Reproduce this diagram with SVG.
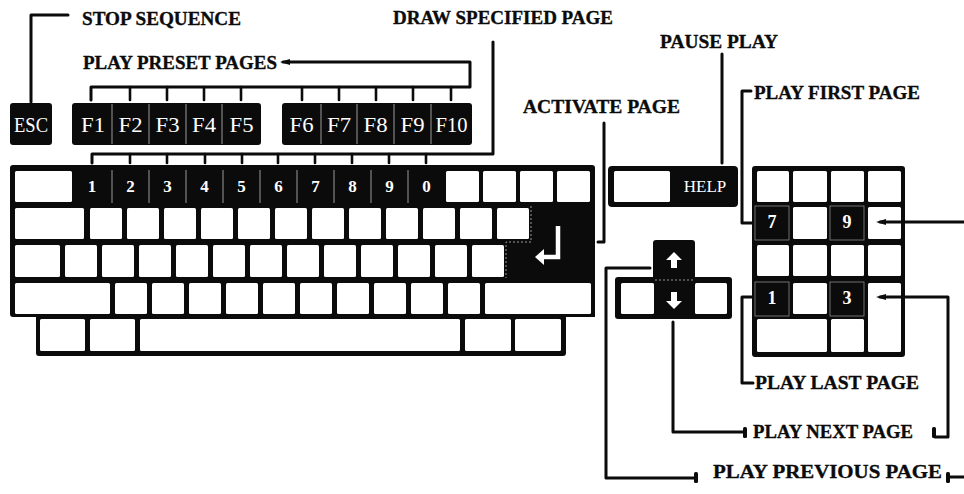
<svg xmlns="http://www.w3.org/2000/svg" width="964" height="494" viewBox="0 0 964 494">
<style>
.frame{fill:#0b0b0b}
.k{fill:#fff}
.sep{stroke:#9a9a9a;stroke-width:1}
.dk{fill:#0b0b0b;stroke:#8a8a8a;stroke-width:0.8}
.kl{font-family:"Liberation Serif",serif;fill:#fff;text-anchor:middle}
.fk{font-size:22px}
.nk{font-size:17px;font-weight:bold}
.lbl{font-family:"Liberation Serif",serif;font-weight:bold;font-size:19.5px;fill:#0b0b0b;stroke:#0b0b0b;stroke-width:0.35}
.ln{fill:none;stroke:#0b0b0b;stroke-width:3;stroke-linejoin:round;stroke-linecap:round}
.tk{fill:none;stroke:#0b0b0b;stroke-width:2.6;stroke-linecap:round}
.cap{fill:#0b0b0b}
</style>
<rect width="964" height="494" fill="#fff"/>

<!-- Main keyboard -->
<g id="main-keyboard">
  <path class="frame" d="M13,165 H592 Q595,165 595,168 V317 H566 V353 Q566,356 563,356 H39 Q36,356 36,353 V317 H13 Q10,317 10,314 V168 Q10,165 13,165 Z"/>
  <!-- row 1 -->
  <rect class="k" x="15" y="171" width="57" height="31" rx="1.5"/>
  <g class="sep">
    <line x1="112" y1="170" x2="112" y2="203"/><line x1="149" y1="170" x2="149" y2="203"/>
    <line x1="186" y1="170" x2="186" y2="203"/><line x1="223" y1="170" x2="223" y2="203"/>
    <line x1="260" y1="170" x2="260" y2="203"/><line x1="297" y1="170" x2="297" y2="203"/>
    <line x1="334" y1="170" x2="334" y2="203"/><line x1="371" y1="170" x2="371" y2="203"/>
    <line x1="408" y1="170" x2="408" y2="203"/>
  </g>
  <g class="kl nk">
    <text x="92" y="192">1</text><text x="130.5" y="192">2</text><text x="167.5" y="192">3</text>
    <text x="204.5" y="192">4</text><text x="241.5" y="192">5</text><text x="278.5" y="192">6</text>
    <text x="315.5" y="192">7</text><text x="352.5" y="192">8</text><text x="389.5" y="192">9</text>
    <text x="426.5" y="192">0</text>
  </g>
  <rect class="k" x="446" y="171" width="33" height="31" rx="1.5"/>
  <rect class="k" x="483" y="171" width="33" height="31" rx="1.5"/>
  <rect class="k" x="520" y="171" width="33" height="31" rx="1.5"/>
  <rect class="k" x="557" y="171" width="33" height="31" rx="1.5"/>
  <!-- row 2 -->
  <rect class="k" x="15" y="208" width="69" height="31" rx="1.5"/>
  <rect class="k" x="90" y="208" width="32" height="31" rx="1.5"/>
  <rect class="k" x="127" y="208" width="32" height="31" rx="1.5"/>
  <rect class="k" x="164" y="208" width="32" height="31" rx="1.5"/>
  <rect class="k" x="201" y="208" width="32" height="31" rx="1.5"/>
  <rect class="k" x="238" y="208" width="32" height="31" rx="1.5"/>
  <rect class="k" x="275" y="208" width="32" height="31" rx="1.5"/>
  <rect class="k" x="312" y="208" width="32" height="31" rx="1.5"/>
  <rect class="k" x="349" y="208" width="32" height="31" rx="1.5"/>
  <rect class="k" x="386" y="208" width="32" height="31" rx="1.5"/>
  <rect class="k" x="423" y="208" width="32" height="31" rx="1.5"/>
  <rect class="k" x="460" y="208" width="32" height="31" rx="1.5"/>
  <rect class="k" x="497" y="208" width="32" height="31" rx="1.5"/>
  <!-- row 3 -->
  <rect class="k" x="15" y="245" width="45" height="32" rx="1.5"/>
  <rect class="k" x="65" y="245" width="32" height="32" rx="1.5"/>
  <rect class="k" x="102" y="245" width="32" height="32" rx="1.5"/>
  <rect class="k" x="139" y="245" width="32" height="32" rx="1.5"/>
  <rect class="k" x="176" y="245" width="32" height="32" rx="1.5"/>
  <rect class="k" x="213" y="245" width="32" height="32" rx="1.5"/>
  <rect class="k" x="250" y="245" width="32" height="32" rx="1.5"/>
  <rect class="k" x="287" y="245" width="32" height="32" rx="1.5"/>
  <rect class="k" x="324" y="245" width="32" height="32" rx="1.5"/>
  <rect class="k" x="361" y="245" width="32" height="32" rx="1.5"/>
  <rect class="k" x="398" y="245" width="32" height="32" rx="1.5"/>
  <rect class="k" x="435" y="245" width="32" height="32" rx="1.5"/>
  <rect class="k" x="472" y="245" width="32" height="32" rx="1.5"/>
  <!-- enter -->
  <path d="M531,206 V242 H506 V278" fill="none" stroke="#9a9a9a" stroke-width="1" stroke-dasharray="2 2"/>
  <path d="M558,226 V257 H542" fill="none" stroke="#fff" stroke-width="4.5" stroke-linejoin="miter"/>
  <polygon points="535,257 544,249 544,265" fill="#fff"/>
  <!-- row 4 -->
  <rect class="k" x="15" y="283" width="95" height="31" rx="1.5"/>
  <rect class="k" x="115" y="283" width="32" height="31" rx="1.5"/>
  <rect class="k" x="152" y="283" width="32" height="31" rx="1.5"/>
  <rect class="k" x="189" y="283" width="32" height="31" rx="1.5"/>
  <rect class="k" x="226" y="283" width="32" height="31" rx="1.5"/>
  <rect class="k" x="263" y="283" width="32" height="31" rx="1.5"/>
  <rect class="k" x="300" y="283" width="32" height="31" rx="1.5"/>
  <rect class="k" x="337" y="283" width="32" height="31" rx="1.5"/>
  <rect class="k" x="374" y="283" width="32" height="31" rx="1.5"/>
  <rect class="k" x="411" y="283" width="32" height="31" rx="1.5"/>
  <rect class="k" x="448" y="283" width="32" height="31" rx="1.5"/>
  <rect class="k" x="485" y="283" width="106" height="31" rx="1.5"/>
  <!-- row 5 -->
  <rect class="k" x="40" y="319" width="45" height="32" rx="1.5"/>
  <rect class="k" x="90" y="319" width="45" height="32" rx="1.5"/>
  <rect class="k" x="140" y="319" width="320" height="32" rx="1.5"/>
  <rect class="k" x="465" y="319" width="46" height="32" rx="1.5"/>
  <rect class="k" x="515" y="319" width="46" height="32" rx="1.5"/>
</g>

<!-- ESC -->
<g id="esc-key">
  <rect class="frame" x="10" y="103" width="42" height="42" rx="3"/>
  <text class="kl fk" x="31" y="132" textLength="34" lengthAdjust="spacingAndGlyphs">ESC</text>
</g>

<!-- F1-F5 -->
<g id="fkeys-left">
  <rect class="frame" x="72" y="103" width="189" height="42" rx="3"/>
  <g class="sep">
    <line x1="112" y1="104" x2="112" y2="144"/><line x1="149" y1="104" x2="149" y2="144"/>
    <line x1="186" y1="104" x2="186" y2="144"/><line x1="222" y1="104" x2="222" y2="144"/>
  </g>
  <g class="kl fk">
    <text x="93" y="132" textLength="24" lengthAdjust="spacingAndGlyphs">F1</text>
    <text x="130.5" y="132" textLength="24" lengthAdjust="spacingAndGlyphs">F2</text>
    <text x="167.5" y="132" textLength="24" lengthAdjust="spacingAndGlyphs">F3</text>
    <text x="204" y="132" textLength="24" lengthAdjust="spacingAndGlyphs">F4</text>
    <text x="241.5" y="132" textLength="24" lengthAdjust="spacingAndGlyphs">F5</text>
  </g>
</g>

<!-- F6-F10 -->
<g id="fkeys-right">
  <rect class="frame" x="282" y="103" width="190" height="42" rx="3"/>
  <g class="sep">
    <line x1="321" y1="104" x2="321" y2="144"/><line x1="357" y1="104" x2="357" y2="144"/>
    <line x1="394" y1="104" x2="394" y2="144"/><line x1="431" y1="104" x2="431" y2="144"/>
  </g>
  <g class="kl fk">
    <text x="301.5" y="132" textLength="24" lengthAdjust="spacingAndGlyphs">F6</text>
    <text x="339" y="132" textLength="24" lengthAdjust="spacingAndGlyphs">F7</text>
    <text x="375.5" y="132" textLength="24" lengthAdjust="spacingAndGlyphs">F8</text>
    <text x="412.5" y="132" textLength="24" lengthAdjust="spacingAndGlyphs">F9</text>
    <text x="451.5" y="132" textLength="32" lengthAdjust="spacingAndGlyphs">F10</text>
  </g>
</g>

<!-- HELP block -->
<g id="help-block">
  <rect class="frame" x="608" y="166" width="130" height="41" rx="4"/>
  <rect class="k" x="614" y="171" width="56" height="31" rx="1.5"/>
  <text class="kl" x="705" y="192" font-size="17px">HELP</text>
</g>

<!-- Arrow keys -->
<g id="arrow-keys">
  <rect class="frame" x="653" y="240" width="42" height="44" rx="3"/>
  <rect class="frame" x="615" y="277" width="117" height="42" rx="3"/>
  <rect class="k" x="621" y="283" width="33" height="31" rx="1.5"/>
  <rect class="k" x="695" y="283" width="32" height="31" rx="1.5"/>
  <line class="sep" x1="655" y1="280" x2="694" y2="280" stroke-dasharray="2 2"/>
  <polygon points="674,252 682,260 677,260 677,268 671,268 671,260 666,260" fill="#fff"/>
  <polygon points="674,309 682,301 677,301 677,292 671,292 671,301 666,301" fill="#fff"/>
</g>

<!-- Numeric keypad -->
<g id="keypad">
  <rect class="frame" x="752" y="166" width="153" height="191" rx="3"/>
  <rect class="k" x="757" y="171" width="32" height="31" rx="1.5"/>
  <rect class="k" x="793" y="171" width="34" height="31" rx="1.5"/>
  <rect class="k" x="831" y="171" width="33" height="31" rx="1.5"/>
  <rect class="k" x="868" y="171" width="33" height="31" rx="1.5"/>
  <rect class="dk" x="755" y="206" width="34" height="34"/>
  <rect class="k" x="793" y="207" width="34" height="32" rx="1.5"/>
  <rect class="dk" x="830" y="206" width="34" height="34"/>
  <rect class="k" x="868" y="207" width="33" height="32" rx="1.5"/>
  <rect class="k" x="757" y="245" width="32" height="31" rx="1.5"/>
  <rect class="k" x="793" y="245" width="34" height="31" rx="1.5"/>
  <rect class="k" x="831" y="245" width="33" height="31" rx="1.5"/>
  <rect class="k" x="868" y="245" width="33" height="31" rx="1.5"/>
  <rect class="dk" x="755" y="282" width="34" height="34"/>
  <rect class="k" x="793" y="283" width="34" height="31" rx="1.5"/>
  <rect class="dk" x="830" y="282" width="34" height="34"/>
  <rect class="k" x="868" y="283" width="33" height="69" rx="1.5"/>
  <rect class="k" x="757" y="319" width="70" height="33" rx="1.5"/>
  <rect class="k" x="831" y="319" width="33" height="33" rx="1.5"/>
  <g class="kl" font-size="18px" font-weight="bold">
    <text x="772" y="228">7</text><text x="847" y="228">9</text>
    <text x="772" y="304">1</text><text x="847" y="304">3</text>
  </g>
</g>

<!-- Labels -->
<g id="label-stop"><text class="lbl" x="82" y="25" textLength="159" lengthAdjust="spacingAndGlyphs">STOP SEQUENCE</text></g>
<g id="label-preset"><text class="lbl" x="83" y="69" textLength="194" lengthAdjust="spacingAndGlyphs">PLAY PRESET PAGES</text></g>
<g id="label-draw"><text class="lbl" x="393" y="24" textLength="220" lengthAdjust="spacingAndGlyphs">DRAW SPECIFIED PAGE</text></g>
<g id="label-activate"><text class="lbl" x="523" y="113" textLength="157" lengthAdjust="spacingAndGlyphs">ACTIVATE PAGE</text></g>
<g id="label-pause"><text class="lbl" x="660" y="48" textLength="118" lengthAdjust="spacingAndGlyphs">PAUSE PLAY</text></g>
<g id="label-first"><text class="lbl" x="754" y="99" textLength="166" lengthAdjust="spacingAndGlyphs">PLAY FIRST PAGE</text></g>
<g id="label-last"><text class="lbl" x="755" y="389" textLength="164" lengthAdjust="spacingAndGlyphs">PLAY LAST PAGE</text></g>
<g id="label-next"><text class="lbl" x="753" y="438" textLength="160" lengthAdjust="spacingAndGlyphs">PLAY NEXT PAGE</text></g>
<g id="label-previous"><text class="lbl" x="713" y="478" textLength="229" lengthAdjust="spacingAndGlyphs">PLAY PREVIOUS PAGE</text></g>

<!-- Connectors -->
<g id="connectors">
  <path class="ln" d="M31,102 V15 H68"/>
  <path class="ln" d="M283,62 H470 V87 H91 V100"/>
  <polygon class="cap" points="280,62 290,59 290,65"/>
  <g class="tk">
    <line x1="130" y1="87" x2="130" y2="100"/><line x1="167" y1="87" x2="167" y2="100"/>
    <line x1="204" y1="87" x2="204" y2="100"/><line x1="241" y1="87" x2="241" y2="100"/>
    <line x1="302" y1="87" x2="302" y2="100"/><line x1="339" y1="87" x2="339" y2="100"/>
    <line x1="376" y1="87" x2="376" y2="100"/><line x1="413" y1="87" x2="413" y2="100"/>
    <line x1="451" y1="87" x2="451" y2="100"/>
  </g>
  <path class="ln" d="M493,42 V154 H92 V163"/>
  <g class="tk">
    <line x1="130" y1="154" x2="130" y2="163"/><line x1="167" y1="154" x2="167" y2="163"/>
    <line x1="205" y1="154" x2="205" y2="163"/><line x1="242" y1="154" x2="242" y2="163"/>
    <line x1="278" y1="154" x2="278" y2="163"/><line x1="315" y1="154" x2="315" y2="163"/>
    <line x1="352" y1="154" x2="352" y2="163"/><line x1="389" y1="154" x2="389" y2="163"/>
    <line x1="426" y1="154" x2="426" y2="163"/>
  </g>
  <path class="ln" d="M604,123 V242 H598"/>
  <path class="ln" d="M722,54 V163"/>
  <path class="ln" d="M751,91 H742 V223 H752"/>
  <path class="ln" d="M880,222 H964"/>
  <polygon class="cap" points="876,222 886,219 886,225"/>
  <path class="ln" d="M752,297 H742 V383 H753"/>
  <path class="ln" d="M673,322 V432 H744"/>
  <rect class="cap" x="743" y="427" width="4" height="11" rx="1.5"/>
  <path class="ln" d="M880,297 H948 V437 H935"/>
  <polygon class="cap" points="876,297 886,294 886,300"/>
  <rect class="cap" x="932" y="427" width="4" height="11" rx="1.5"/>
  <path class="ln" d="M650,268 H606 V478 H695"/>
  <rect class="cap" x="694" y="472" width="4" height="11" rx="1.5"/>
  <path class="ln" d="M950,477 H964"/>
  <rect class="cap" x="946" y="472" width="4" height="11" rx="1.5"/>
</g>
</svg>
